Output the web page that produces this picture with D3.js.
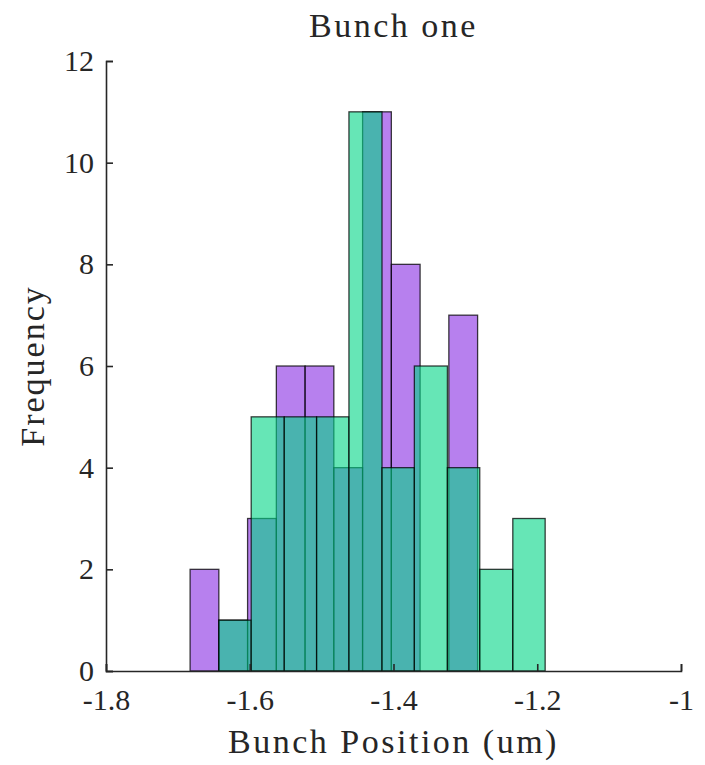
<!DOCTYPE html>
<html>
<head>
<meta charset="utf-8">
<script src="https://cdn.jsdelivr.net/npm/d3@7"></script>
<style>
  body { margin: 0; background: #fff; }
  text { font-family: "Liberation Serif", "DejaVu Serif", serif; fill: #262626; }
</style>
</head>
<body>
<div id="chart"></div>
<script>
// Histogram bins
const purpleEdges = [-1.683, -1.643, -1.603, -1.563, -1.523, -1.483, -1.443, -1.403, -1.363, -1.323, -1.283];
const purpleCounts = [2, 1, 3, 6, 6, 4, 11, 8, 0, 7];
const greenEdges = [-1.643, -1.598, -1.552, -1.507, -1.462, -1.416, -1.371, -1.325, -1.280, -1.234, -1.189];
const greenCounts = [1, 5, 5, 5, 11, 4, 6, 4, 2, 3];

const xTicks = [-1.8, -1.6, -1.4, -1.2, -1];
const yTicks = [0, 2, 4, 6, 8, 10, 12];

const width = 705, height = 765;
const margin = { top: 61, right: 24, bottom: 94, left: 106 };

const svg = d3.select("#chart").append("svg")
    .attr("width", width)
    .attr("height", height);

const x = d3.scaleLinear().domain([-1.8, -1]).range([margin.left, width - margin.right]);
const y = d3.scaleLinear().domain([0, 12]).range([height - margin.bottom, margin.top]);

// turn edges + counts into bin objects
function toBins(edges, counts) {
    return counts.map((c, i) => ({ x0: edges[i], x1: edges[i + 1], count: c }));
}

function drawHist(bins, color) {
    svg.append("g")
        .selectAll("rect")
        .data(bins.filter(d => d.count > 0))
        .enter()
        .append("rect")
        .attr("x", d => x(d.x0))
        .attr("y", d => y(d.count))
        .attr("width", d => x(d.x1) - x(d.x0))
        .attr("height", d => y(0) - y(d.count))
        .style("fill", color)
        .style("fill-opacity", 0.6)
        .style("stroke", "#000")
        .style("stroke-opacity", 0.75)
        .style("stroke-width", 1.3);
}

drawHist(toBins(purpleEdges, purpleCounts), "#872be3");
drawHist(toBins(greenEdges, greenCounts), "#00d585");

// Axes (MATLAB style, ticks pointing inward, no box)
const xAxis = svg.append("g")
    .attr("transform", `translate(0,${y(0)})`)
    .call(d3.axisBottom(x).tickValues(xTicks).tickSize(-7).tickPadding(18)
        .tickFormat(d => String(d)));
const yAxis = svg.append("g")
    .attr("transform", `translate(${x(-1.8)},0)`)
    .call(d3.axisLeft(y).tickValues(yTicks).tickSize(-7).tickPadding(12));

[xAxis, yAxis].forEach(ax => {
    ax.select(".domain").attr("stroke", "#262626").attr("stroke-width", 1.6);
    ax.selectAll(".tick line").attr("stroke", "#262626").attr("stroke-width", 1.6);
    ax.selectAll(".tick text")
        .style("font-family", "'Liberation Serif', serif")
        .style("font-size", "30px")
        .attr("fill", "#262626");
});

// Title and labels
svg.append("text")
    .attr("x", (x(-1.8) + x(-1)) / 2)
    .attr("y", 37)
    .attr("text-anchor", "middle")
    .style("font-size", "34px")
    .style("letter-spacing", "2.5px")
    .text("Bunch one");

svg.append("text")
    .attr("x", (x(-1.8) + x(-1)) / 2)
    .attr("y", 753)
    .attr("text-anchor", "middle")
    .style("font-size", "34px")
    .style("letter-spacing", "2.5px")
    .text("Bunch Position (um)");

svg.append("text")
    .attr("transform", `translate(44,${(y(0) + y(12)) / 2}) rotate(-90)`)
    .attr("text-anchor", "middle")
    .style("font-size", "34px")
    .style("letter-spacing", "2px")
    .text("Frequency");
</script>
</body>
</html>
